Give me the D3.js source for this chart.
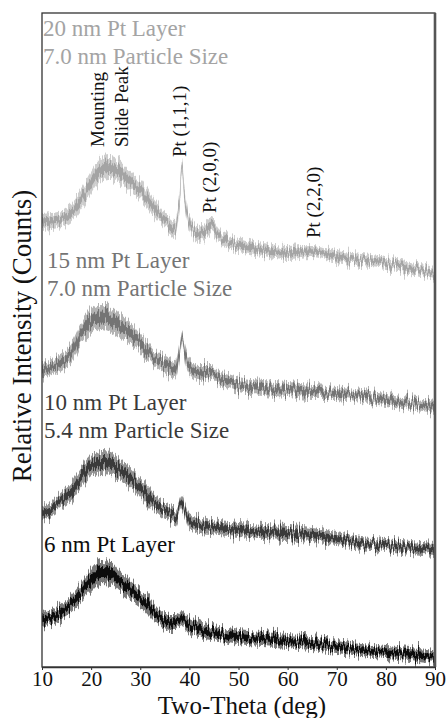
<!DOCTYPE html>
<html>
<head>
<meta charset="utf-8">
<script src="https://cdn.jsdelivr.net/npm/d3@7"></script>
<style>
  body { margin: 0; background: #fff; }
  svg, svg text { font-family: "Liberation Serif", "Times New Roman", Times, "DejaVu Serif", serif; }
</style>
</head>
<body>
<div id="d3-container"></div>
<script>
// two-theta positions the traces were read at (deg)
var twoTheta = [10, 12, 14, 16, 18, 20, 22, 24, 26, 28, 30, 32, 34, 36, 37, 38, 38.5, 39, 40,
                42, 44.5, 46, 48, 50, 55, 60, 65, 70, 75, 80, 85, 90];

// relative counts (offset per sample, as stacked in the figure)
var pt20 = [445, 446, 448, 454, 467, 484, 497, 499, 494, 485, 477, 464, 452, 442, 439, 467, 501, 472, 444,
            432, 441, 432, 425, 422, 417, 414, 416, 410, 407, 404, 399, 394];
var pt15 = [297, 300, 305, 314, 334, 345, 350, 347, 340, 334, 324, 314, 305, 299, 297, 314, 329, 314, 300,
            294, 295, 289, 285, 282, 279, 277, 275, 274, 270, 267, 264, 260];
var pt10 = [155, 159, 167, 175, 189, 200, 205, 204, 197, 189, 179, 169, 159, 152, 149, 159, 165, 159, 147,
            142, 140, 139, 138, 137, 135, 134, 132, 129, 124, 122, 119, 117];
var pt6  = [47, 50, 55, 64, 75, 87, 95, 94, 85, 77, 69, 59, 49, 44, 44, 47, 50, 47, 42,
            39, 36, 35, 32, 30, 28, 26, 24, 20, 17, 15, 13, 10];

// half width of the noise band around each trace
var noise20 = [8, 8, 8, 9, 10, 11, 11, 11, 11, 10, 10, 9, 8, 8, 8, 8, 6, 8, 8, 8, 8, 7, 7, 7, 6, 6, 6, 6, 6, 6, 6, 6];
var noise15 = [8, 8, 9, 10, 11, 12, 12, 12, 11, 11, 10, 9, 8, 8, 8, 8, 6, 8, 8, 8, 7, 7, 7, 7, 7, 7, 7, 6, 6, 6, 6, 6];
var noise10 = [7, 7, 8, 9, 10, 11, 11, 11, 10, 10, 9, 9, 8, 8, 8, 7, 6, 7, 8, 8, 7, 7, 7, 7, 7, 7, 7, 6, 6, 6, 6, 6];
var noise6  = [7, 7, 8, 9, 10, 11, 11, 11, 10, 10, 9, 9, 8, 8, 8, 7, 7, 7, 8, 8, 7, 7, 7, 7, 7, 7, 7, 6, 6, 6, 6, 6];

var xTicks = [10, 20, 30, 40, 50, 60, 70, 80, 90];

var sampleLabels = [
  ["20 nm Pt Layer", "7.0 nm Particle Size"],
  ["15 nm Pt Layer", "7.0 nm Particle Size"],
  ["10 nm Pt Layer", "5.4 nm Particle Size"],
  ["6 nm Pt Layer"]
];

var peakNames = ["Mounting", "Slide Peak", "Pt (1,1,1)", "Pt (2,0,0)", "Pt (2,2,0)"];
var peakDeg   = [22.6, 27.6, 39.3, 45.5, 66.5];

var FONT = "'Liberation Serif', 'Times New Roman', Times, 'DejaVu Serif', serif";

var margin = {top: 13, right: 11, bottom: 51, left: 42},
    width = 446 - margin.left - margin.right,
    height = 718 - margin.top - margin.bottom;

var root = d3.select("#d3-container")
  .append("svg")
    .attr("width", width + margin.left + margin.right)
    .attr("height", height + margin.top + margin.bottom)
    .style("font-family", FONT);

var svg = root.append("g")
    .attr("transform", "translate(" + margin.left + "," + margin.top + ")");

var x = d3.scaleLinear().domain([10, 90]).range([0, width]);
var y = d3.scaleLinear().domain([0, 654]).range([height, 0]);

// texture filters that give the bands a detector-noise look
var defs = root.append("defs");
[3, 11, 27, 41].forEach(function(seed, i) {
  var f = defs.append("filter")
    .attr("id", "hair" + i)
    .attr("filterUnits", "userSpaceOnUse")
    .attr("x", -60).attr("y", -60).attr("width", 560).attr("height", 800)
    .attr("color-interpolation-filters", "sRGB");
  f.append("feTurbulence")
    .attr("type", "fractalNoise")
    .attr("baseFrequency", "0.8 0.025")
    .attr("numOctaves", 2)
    .attr("seed", seed)
    .attr("result", "t");
  f.append("feColorMatrix")
    .attr("in", "t")
    .attr("type", "matrix")
    .attr("values", "0 0 0 0 0.5  0 1 0 0 0  0 0 0 0 0  0 0 0 0 1")
    .attr("result", "m");
  f.append("feDisplacementMap")
    .attr("in", "SourceGraphic")
    .attr("in2", "m")
    .attr("scale", 20)
    .attr("xChannelSelector", "R")
    .attr("yChannelSelector", "G");
});

defs.append("clipPath").attr("id", "plotClip")
  .append("rect").attr("width", width).attr("height", height);

var series = [
  {vals: pt20, spread: noise20, color: "#a4a4a4"},
  {vals: pt15, spread: noise15, color: "#747474"},
  {vals: pt10, spread: noise10, color: "#3a3a3a"},
  {vals: pt6,  spread: noise6,  color: "#0c0c0c"}
];

var traces = svg.append("g").attr("clip-path", "url(#plotClip)");

series.forEach(function(s, i) {
  var pts = twoTheta.map(function(t, j) { return {t: t, v: s.vals[j], n: s.spread[j]}; });

  var outer = d3.area()
    .curve(d3.curveMonotoneX)
    .x(function(d) { return x(d.t); })
    .y0(function(d) { return y(d.v - d.n); })
    .y1(function(d) { return y(d.v + d.n); });

  var inner = d3.area()
    .curve(d3.curveMonotoneX)
    .x(function(d) { return x(d.t); })
    .y0(function(d) { return y(d.v - d.n * 0.45); })
    .y1(function(d) { return y(d.v + d.n * 0.45); });

  var g = traces.append("g").attr("filter", "url(#hair" + i + ")");
  g.append("path").datum(pts)
    .attr("d", outer)
    .attr("fill", s.color)
    .attr("opacity", 0.55);
  g.append("path").datum(pts)
    .attr("d", inner)
    .attr("fill", s.color);
});

// frame
svg.append("rect")
  .attr("width", width).attr("height", height)
  .attr("fill", "none")
  .attr("stroke", "#333")
  .attr("stroke-width", 1.3);
svg.append("line")
  .attr("x1", width).attr("x2", width)
  .attr("y1", 0).attr("y2", height)
  .attr("stroke", "#555")
  .attr("stroke-width", 2.6);

var xAxis = svg.append("g")
  .attr("transform", "translate(0," + height + ")")
  .call(d3.axisBottom(x).tickValues(xTicks).tickSize(3).tickPadding(1).tickSizeOuter(0));
xAxis.attr("font-family", FONT);
xAxis.select(".domain").attr("stroke", "#333").attr("stroke-width", 1.3);
xAxis.selectAll(".tick line").attr("stroke", "#333");
xAxis.selectAll(".tick text")
  .style("font-family", FONT)
  .attr("font-size", 21)
  .attr("fill", "#111");

svg.append("text")
  .attr("x", 200).attr("y", height + 47)
  .attr("text-anchor", "middle")
  .style("font-family", FONT)
  .attr("font-size", 25)
  .attr("fill", "#111")
  .text("Two-Theta (deg)");

svg.append("text")
  .attr("transform", "translate(-11," + 323 + ") rotate(-90)")
  .attr("text-anchor", "middle")
  .style("font-family", FONT)
  .attr("font-size", 27)
  .attr("fill", "#111")
  .text("Relative Intensity (Counts)");

// sample labels
var labelPos = [[1, 23], [5, 255], [2, 397], [2, 539]];
sampleLabels.forEach(function(lines, i) {
  var t = svg.append("text")
    .style("font-family", FONT)
    .attr("font-size", 23)
    .attr("fill", series[i].color);
  lines.forEach(function(l, k) {
    t.append("tspan")
      .attr("x", labelPos[i][0])
      .attr("y", labelPos[i][1] + k * 27.5)
      .text(l);
  });
});

// peak annotations
var peakStart = [134, 134, 144, 200, 225];
peakNames.forEach(function(p, i) {
  svg.append("text")
    .attr("transform", "translate(" + x(peakDeg[i]) + "," + peakStart[i] + ") rotate(-90)")
    .style("font-family", FONT)
    .attr("font-size", 19)
    .attr("fill", "#111")
    .text(p);
});
</script>
</body>
</html>
